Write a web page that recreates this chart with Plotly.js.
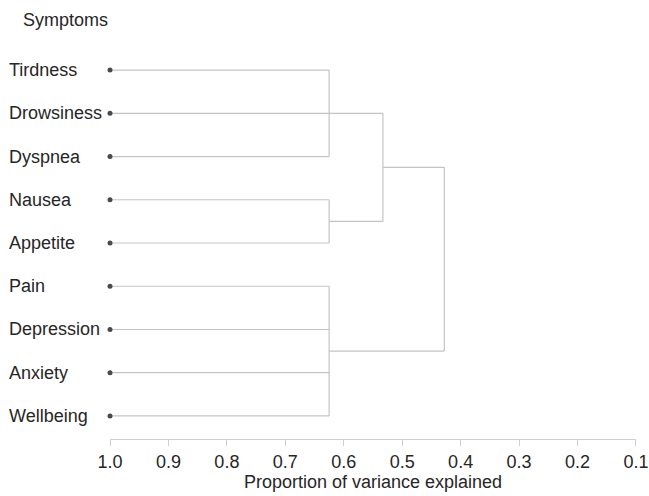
<!DOCTYPE html>
<html>
<head>
<meta charset="utf-8">
<script src="https://cdn.plot.ly/plotly-3.0.1.min.js"></script>
<style>html,body{margin:0;padding:0;background:#fff;}#chart{width:649px;height:496px;}</style>
</head>
<body>
<div id="chart"></div>
<script>
// Leaves (top to bottom)
const symptoms = ["Tirdness", "Drowsiness", "Dyspnea", "Nausea", "Appetite", "Pain", "Depression", "Anxiety", "Wellbeing"];
// Leaf level on the proportion-of-variance axis
const leafLevel = 1.0;
// Merges: node ids 0..8 are leaves, merges create ids 9, 10, ...
const mergeChildren = [[0, 1, 2], [3, 4], [5, 6, 7, 8], [9, 10], [12, 11]];
const mergeLevels = [0.625, 0.625, 0.625, 0.533, 0.428];
const xTickValues = [1.0, 0.9, 0.8, 0.7, 0.6, 0.5, 0.4, 0.3, 0.2, 0.1];
const xTickLabels = ["1.0", "0.9", "0.8", "0.7", "0.6", "0.5", "0.4", "0.3", "0.2", "0.1"];

const nLeaf = symptoms.length;
const pos = [], lvl = [], parentLvl = [];
symptoms.forEach((s, i) => { pos[i] = i; lvl[i] = leafLevel; });
mergeChildren.forEach((ch, k) => {
  const id = nLeaf + k;
  pos[id] = ch.reduce((a, c) => a + pos[c], 0) / ch.length;
  lvl[id] = mergeLevels[k];
  ch.forEach(c => { parentLvl[c] = mergeLevels[k]; });
});
const lx = [], ly = [];
for (let id = 0; id < pos.length; id++) {
  if (parentLvl[id] !== undefined) {
    lx.push(lvl[id], parentLvl[id], null);
    ly.push(pos[id], pos[id], null);
  }
}
mergeChildren.forEach((ch, k) => {
  const ys = ch.map(c => pos[c]);
  lx.push(mergeLevels[k], mergeLevels[k], null);
  ly.push(Math.min(...ys), Math.max(...ys), null);
});

const font = "Liberation Sans, Arial, Helvetica, sans-serif";
const fsize = 18;
const traces = [
  {x: lx, y: ly, type: "scatter", mode: "lines", line: {color: "#c4c4c4", width: 1.2}, hoverinfo: "skip", showlegend: false, cliponaxis: false},
  {x: symptoms.map(() => leafLevel), y: symptoms.map((s, i) => i), type: "scatter", mode: "markers",
   marker: {color: "#4a4a4a", size: 5}, hoverinfo: "skip", showlegend: false, cliponaxis: false}
];
const annotations = symptoms.map((s, i) => ({
  text: s, xref: "paper", yref: "y", x: 0, y: i, xanchor: "left", yanchor: "middle",
  xshift: -103, showarrow: false, font: {family: font, size: fsize, color: "#262626"}
}));
annotations.push({text: "Symptoms", xref: "paper", yref: "paper", x: 0, y: 1, xanchor: "left", yanchor: "middle",
  xshift: -89, yshift: 28, showarrow: false, font: {family: font, size: fsize, color: "#262626"}});

const layout = {
  width: 649, height: 496,
  margin: {l: 110, r: 13, t: 48, b: 57},
  paper_bgcolor: "#fff", plot_bgcolor: "#fff",
  font: {family: font, color: "#262626"},
  xaxis: {
    range: [1.0, 0.0999], tickvals: xTickValues, ticktext: xTickLabels,
    showgrid: false, zeroline: false, showline: true, linecolor: "#cfcfcf", linewidth: 1,
    ticks: "outside", ticklen: 6, tickcolor: "#cfcfcf", tickfont: {size: fsize, color: "#262626"},
    ticklabeloverflow: "allow", automargin: false,
    title: {text: "Proportion of variance explained", font: {size: 18, color: "#262626"}, standoff: 4}
  },
  yaxis: {range: [8.533, -0.51], showgrid: false, zeroline: false, showline: false, showticklabels: false, ticks: ""},
  annotations: annotations
};
Plotly.newPlot("chart", traces, layout, {displayModeBar: false, staticPlot: true});
</script>
</body>
</html>
